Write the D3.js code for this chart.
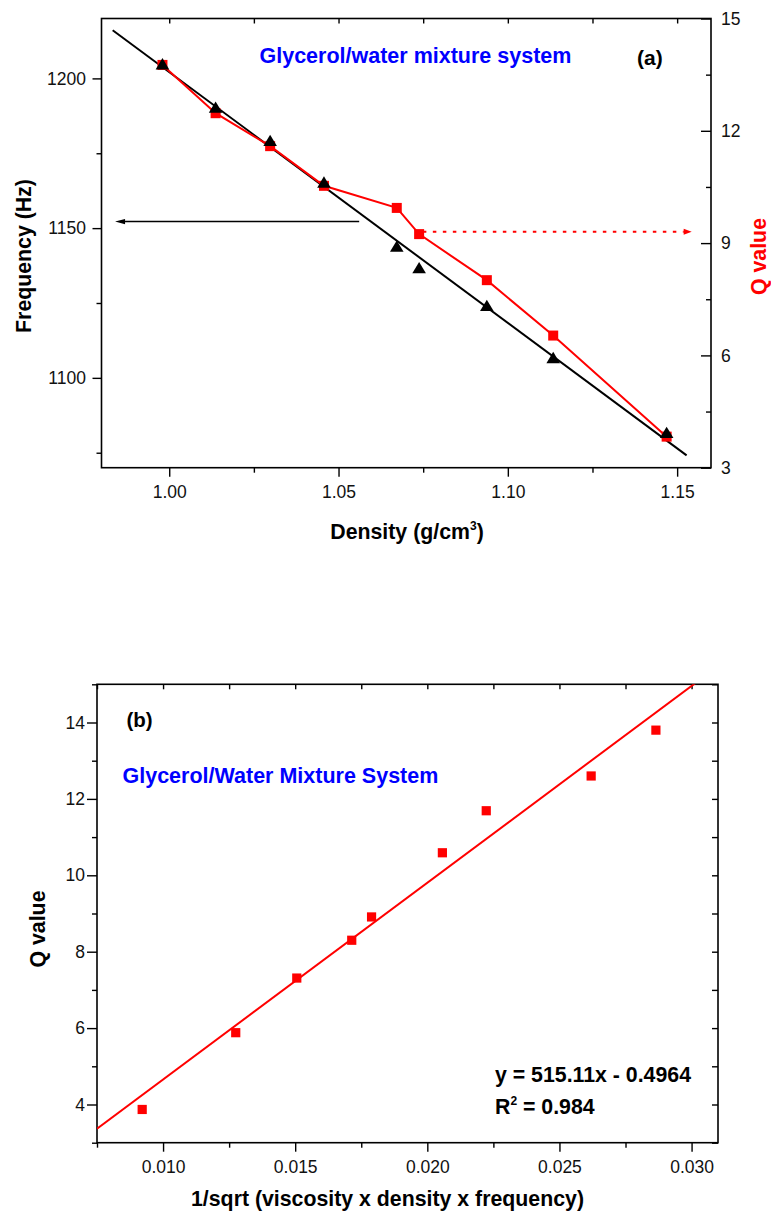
<!DOCTYPE html>
<html>
<head>
<meta charset="utf-8">
<script src="https://cdn.jsdelivr.net/npm/d3@7/dist/d3.min.js"></script>
<style>
  html, body { margin: 0; padding: 0; background: #ffffff; }
  svg { display: block; font-family: "Liberation Sans", Arial, Helvetica, sans-serif; }
  .tick text { font-size: 17.5px; fill: #111; }
  .tick line { stroke: #000; stroke-width: 1.4; }
</style>
</head>
<body>
<svg id="fig" width="771" height="1215"></svg>
<script>
// ---- Panel (a): frequency and Q value versus density ----
const densityA   = [0.998, 1.0137, 1.0298, 1.0457, 1.0672, 1.0738, 1.0938, 1.1134, 1.1469];
const frequencyA = [1204.8, 1190.3, 1179.2, 1165.3, 1143.9, 1136.7, 1124.1, 1106.7, 1081.7];
const qValueA    = [13.76, 12.47, 11.59, 10.53, 9.94, 9.24, 8.01, 6.53, 3.83];
// straight-line fit through the frequency points (end points)
const fitDensityA = [0.9833, 1.1528];
const fitFreqA    = [1216.1, 1074.1];
// guide arrows: black one points to the frequency axis, red dotted one to the Q axis
const freqArrowDensity = [1.0561, 0.984];
const freqArrowValue   = 1152.2;
const qArrowDensity    = [1.0749, 1.1543];
const qArrowValue      = 9.3;

const densityTicksMajor = [1.00, 1.05, 1.10, 1.15];
const densityTicksMinor = [1.025, 1.075, 1.125];
const freqTicksMajor = [1100, 1150, 1200];
const freqTicksMinor = [1075, 1125, 1175];
const qTicksMajorA = [3, 6, 9, 12, 15];
const qTicksMinorA = [4.5, 7.5, 10.5, 13.5];

// ---- Panel (b): Q value versus 1/sqrt(viscosity x density x frequency) ----
const invSqrtB = [0.00921, 0.01275, 0.01506, 0.01714, 0.01789, 0.02057, 0.02223, 0.0262, 0.02865];
const qValueB  = [3.87, 5.88, 7.31, 8.30, 8.91, 10.59, 11.69, 12.6, 13.8];
const fitSlopeB = 515.11;
const fitInterceptB = -0.4964;
const fitR2B = 0.984;

const invTicksMajor = [0.010, 0.015, 0.020, 0.025, 0.030];
const invTicksMinor = [0.0075, 0.0125, 0.0175, 0.0225, 0.0275];
const qTicksMajorB = [4, 6, 8, 10, 12, 14];
const qTicksMinorB = [3, 5, 7, 9, 11, 13, 15];

const RED = "#ff0000", BLUE = "#0000ff";
const svg = d3.select("#fig");
svg.append("rect").attr("width", 771).attr("height", 1215).attr("fill", "#fff");

function drawAxis(g, axis) {
  g.call(axis);
  g.select(".domain").remove();
}

// triangle marker centred on its bounding box
function triPath(cx, cy) {
  return `M${cx},${cy - 6}L${cx + 6.8},${cy + 5.4}L${cx - 6.8},${cy + 5.4}Z`;
}

// ================= Panel (a) =================
{
  const L = 101.5, R = 711, T = 18.5, B = 467.7;
  const x  = d3.scaleLinear().domain([0.98, 1.16]).range([L, R]);
  const yF = d3.scaleLinear().domain([1070, 1220]).range([B, T]);
  const yQ = d3.scaleLinear().domain([3, 15]).range([B, T]);
  const g = svg.append("g");

  // axes
  drawAxis(g.append("g").attr("transform", `translate(0,${B})`),
    d3.axisBottom(x).tickValues(densityTicksMajor).tickSize(9).tickPadding(9)
      .tickFormat(d3.format(".2f")));
  drawAxis(g.append("g").attr("transform", `translate(0,${B})`),
    d3.axisBottom(x).tickValues(densityTicksMinor).tickSize(5).tickFormat(""));
  drawAxis(g.append("g").attr("transform", `translate(0,${T})`),
    d3.axisBottom(x).tickValues(densityTicksMajor.concat(densityTicksMinor)).tickSize(5).tickFormat(""));
  drawAxis(g.append("g").attr("transform", `translate(${L},0)`),
    d3.axisLeft(yF).tickValues(freqTicksMajor).tickSize(9).tickPadding(6.5)
      .tickFormat(d3.format("d")));
  drawAxis(g.append("g").attr("transform", `translate(${L},0)`),
    d3.axisLeft(yF).tickValues(freqTicksMinor).tickSize(5).tickFormat(""));
  drawAxis(g.append("g").attr("transform", `translate(${R},0)`),
    d3.axisRight(yQ).tickValues(qTicksMajorA).tickSizeInner(-10).tickSizeOuter(0).tickPadding(10)
      .tickFormat(d3.format("d")));
  drawAxis(g.append("g").attr("transform", `translate(${R},0)`),
    d3.axisRight(yQ).tickValues(qTicksMinorA).tickSizeInner(-5).tickSizeOuter(0).tickFormat(""));

  // frame
  g.append("rect").attr("x", L).attr("y", T).attr("width", R - L).attr("height", B - T)
    .attr("fill", "none").attr("stroke", "#000").attr("stroke-width", 1.6);

  // fitted frequency line
  g.append("line")
    .attr("x1", x(fitDensityA[0])).attr("y1", yF(fitFreqA[0]))
    .attr("x2", x(fitDensityA[1])).attr("y2", yF(fitFreqA[1]))
    .attr("stroke", "#000").attr("stroke-width", 2);

  // Q value line and squares
  const qLine = d3.line().x((d, i) => x(densityA[i])).y(d => yQ(d));
  g.append("path").datum(qValueA).attr("d", qLine)
    .attr("fill", "none").attr("stroke", RED).attr("stroke-width", 2);
  g.selectAll("rect.sq").data(qValueA).join("rect").attr("class", "sq")
    .attr("x", (d, i) => x(densityA[i]) - 5).attr("y", d => yQ(d) - 5)
    .attr("width", 10).attr("height", 10).attr("fill", RED);

  // frequency triangles
  g.selectAll("path.tri").data(frequencyA).join("path").attr("class", "tri")
    .attr("d", (d, i) => triPath(x(densityA[i]), yF(d))).attr("fill", "#000");

  // black arrow toward the frequency axis
  const ay = yF(freqArrowValue);
  const ax0 = x(freqArrowDensity[0]), ax1 = x(freqArrowDensity[1]);
  g.append("line").attr("x1", ax0).attr("y1", ay).attr("x2", ax1 + 6).attr("y2", ay)
    .attr("stroke", "#000").attr("stroke-width", 1.4);
  g.append("path").attr("d", `M${ax1},${ay}L${ax1 + 10},${ay - 2.6}L${ax1 + 10},${ay + 2.6}Z`)
    .attr("fill", "#000");

  // red dotted arrow toward the Q axis
  const qy = yQ(qArrowValue);
  const qx0 = x(qArrowDensity[0]), qx1 = x(qArrowDensity[1]);
  g.append("line").attr("x1", qx0).attr("y1", qy).attr("x2", qx1 - 8).attr("y2", qy)
    .attr("stroke", RED).attr("stroke-width", 2).attr("stroke-dasharray", "3.5,6.5");
  g.append("path").attr("d", `M${qx1},${qy}L${qx1 - 8},${qy - 3}L${qx1 - 8},${qy + 3}Z`)
    .attr("fill", RED);

  // titles and labels
  g.append("text").attr("x", 259.5).attr("y", 63).attr("fill", BLUE)
    .attr("font-size", 21.5).attr("font-weight", "bold").text("Glycerol/water mixture system");
  g.append("text").attr("x", 637).attr("y", 64.5).attr("fill", "#000")
    .attr("font-size", 21).attr("font-weight", "bold").text("(a)");

  const xt = g.append("text").attr("x", 407).attr("y", 538.5).attr("text-anchor", "middle")
    .attr("font-size", 21.3).attr("font-weight", "bold").attr("fill", "#000");
  xt.append("tspan").text("Density (g/cm");
  xt.append("tspan").attr("font-size", 12).attr("dy", -9).text("3");
  xt.append("tspan").attr("dy", 9).text(")");

  g.append("text").attr("transform", "translate(30.5,256) rotate(-90)")
    .attr("text-anchor", "middle").attr("font-size", 21.3).attr("font-weight", "bold")
    .attr("fill", "#000").text("Frequency (Hz)");
  g.append("text").attr("transform", "translate(766,256.5) rotate(-90)")
    .attr("text-anchor", "middle").attr("font-size", 21.3).attr("font-weight", "bold")
    .attr("fill", RED).text("Q value");
}

// ================= Panel (b) =================
{
  const L = 97, R = 718, T = 684.3, B = 1142.7;
  const x = d3.scaleLinear().domain([0.0075, 0.031]).range([L, R]);
  const y = d3.scaleLinear().domain([3, 15]).range([B, T]);
  const g = svg.append("g");

  drawAxis(g.append("g").attr("transform", `translate(0,${B})`),
    d3.axisBottom(x).tickValues(invTicksMajor).tickSize(9).tickPadding(9)
      .tickFormat(d3.format(".3f")));
  drawAxis(g.append("g").attr("transform", `translate(0,${B})`),
    d3.axisBottom(x).tickValues(invTicksMinor).tickSize(5).tickFormat(""));
  drawAxis(g.append("g").attr("transform", `translate(0,${T})`),
    d3.axisBottom(x).tickValues(invTicksMajor.concat(invTicksMinor)).tickSize(5).tickFormat(""));
  drawAxis(g.append("g").attr("transform", `translate(${L},0)`),
    d3.axisLeft(y).tickValues(qTicksMajorB).tickSize(10).tickPadding(2)
      .tickFormat(d3.format("d")));
  drawAxis(g.append("g").attr("transform", `translate(${L},0)`),
    d3.axisLeft(y).tickValues(qTicksMinorB).tickSize(5).tickFormat(""));
  drawAxis(g.append("g").attr("transform", `translate(${R},0)`),
    d3.axisRight(y).tickValues(qTicksMajorB.concat(qTicksMinorB)).tickSizeInner(-6).tickSizeOuter(0).tickFormat(""));

  g.append("rect").attr("x", L).attr("y", T).attr("width", R - L).attr("height", B - T)
    .attr("fill", "none").attr("stroke", "#000").attr("stroke-width", 1.6);

  // linear fit, clipped to the plot frame
  svg.append("clipPath").attr("id", "clipB").append("rect")
    .attr("x", L).attr("y", T).attr("width", R - L).attr("height", B - T);
  const xd = x.domain();
  g.append("line").attr("clip-path", "url(#clipB)")
    .attr("x1", x(xd[0])).attr("y1", y(fitSlopeB * xd[0] + fitInterceptB))
    .attr("x2", x(xd[1])).attr("y2", y(fitSlopeB * xd[1] + fitInterceptB))
    .attr("stroke", RED).attr("stroke-width", 2);

  g.selectAll("rect.sq").data(qValueB).join("rect").attr("class", "sq")
    .attr("x", (d, i) => x(invSqrtB[i]) - 4.6).attr("y", d => y(d) - 4.6)
    .attr("width", 9.2).attr("height", 9.2).attr("fill", RED);

  g.append("text").attr("x", 126.5).attr("y", 727).attr("font-size", 20.5)
    .attr("font-weight", "bold").attr("fill", "#000").text("(b)");
  g.append("text").attr("x", 122.5).attr("y", 782.5).attr("fill", BLUE)
    .attr("font-size", 21.5).attr("font-weight", "bold").text("Glycerol/Water Mixture System");

  g.append("text").attr("x", 495).attr("y", 1081.5).attr("font-size", 21.3)
    .attr("font-weight", "bold").attr("fill", "#000")
    .text(`y = ${fitSlopeB}x - ${Math.abs(fitInterceptB)}`);
  const r2 = g.append("text").attr("x", 495).attr("y", 1114).attr("font-size", 21.3)
    .attr("font-weight", "bold").attr("fill", "#000");
  r2.append("tspan").text("R");
  r2.append("tspan").attr("font-size", 12).attr("dy", -9).text("2");
  r2.append("tspan").attr("dy", 9).text(` = ${fitR2B}`);

  g.append("text").attr("x", 387.5).attr("y", 1206).attr("text-anchor", "middle")
    .attr("font-size", 21.3).attr("font-weight", "bold").attr("fill", "#000")
    .text("1/sqrt (viscosity x density x frequency)");
  g.append("text").attr("transform", "translate(44.5,929) rotate(-90)")
    .attr("text-anchor", "middle").attr("font-size", 21.3).attr("font-weight", "bold")
    .attr("fill", "#000").text("Q value");
}
</script>
</body>
</html>
